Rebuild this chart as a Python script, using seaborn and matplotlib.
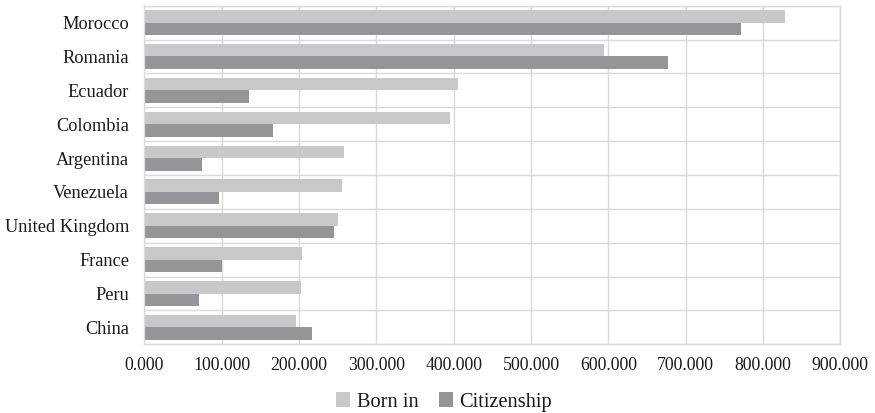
import numpy as np
import pandas as pd
import matplotlib
matplotlib.use("Agg")
import matplotlib.pyplot as plt
from matplotlib.ticker import FuncFormatter, FixedLocator, MultipleLocator
import seaborn as sns

countries = ["Morocco", "Romania", "Ecuador", "Colombia", "Argentina",
             "Venezuela", "United Kingdom", "France", "Peru", "China"]
born_in = [828000, 594000, 406000, 395000, 258000, 256000, 250000, 204000, 203000, 196000]
citizenship = [772000, 677000, 136000, 167000, 74000, 96000, 245000, 100000, 71000, 217000]
series_names = ["Born in", "Citizenship"]
series_colors = ["#c7c8ca", "#949599"]

df = pd.DataFrame({
    "Country": countries * 2,
    "Population": born_in + citizenship,
    "Series": [series_names[0]] * len(countries) + [series_names[1]] * len(countries),
})

sns.set_theme(style="white")
plt.rcParams["font.family"] = ["Liberation Serif", "DejaVu Serif"]

fig = plt.figure(figsize=(8.75, 4.13), dpi=100)
ax = fig.add_axes([144.3 / 875, 1 - 344.3 / 413, (840.3 - 144.3) / 875, (344.3 - 5.7) / 413])

sns.barplot(data=df, y="Country", x="Population", hue="Series", order=countries,
            hue_order=series_names, palette=series_colors, orient="h",
            width=0.74, gap=0, saturation=1, linewidth=0, edgecolor="none",
            ax=ax, legend=True)

grid_color = "#dadada"
ax.set_xlim(0, 900000)
ax.set_ylim(len(countries) - 0.5, -0.5)
ax.xaxis.set_major_locator(MultipleLocator(100000))
ax.xaxis.set_major_formatter(FuncFormatter(lambda v, p: f"{v / 1000:.3f}"))
ax.yaxis.set_minor_locator(FixedLocator(np.arange(-0.5, len(countries), 1.0)))
ax.grid(True, axis="x", which="major", color=grid_color, linewidth=1.0)
ax.grid(True, axis="y", which="minor", color=grid_color, linewidth=1.0)
ax.set_axisbelow(True)
for s in ax.spines.values():
    s.set_visible(True)
    s.set_color(grid_color)
    s.set_linewidth(1.0)

ax.set_xlabel("")
ax.set_ylabel("")
ax.tick_params(axis="x", which="both", length=0, pad=9, labelsize=12.8, labelcolor="#1a1a1a")
ax.tick_params(axis="y", which="both", length=0, pad=11, labelsize=13.2, labelcolor="#1a1a1a")

handles, labels = ax.get_legend_handles_labels()
ax.get_legend().remove()
fig.legend(handles, labels, loc="center", bbox_to_anchor=(444 / 875, 1 - 402 / 413),
           ncol=2, frameon=False, fontsize=14.7, handlelength=0.7, handleheight=0.7,
           handletextpad=0.3, columnspacing=1.0, labelcolor="#1a1a1a")

fig.savefig("out.png", dpi=100)
